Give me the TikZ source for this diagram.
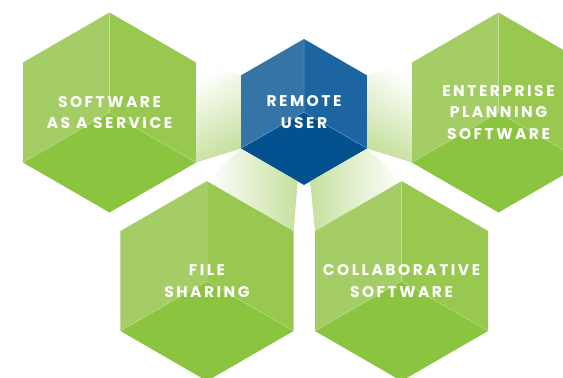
\documentclass[tikz,border=0pt]{standalone}
\usepackage{fontspec}
\setmainfont{Poppins}[LetterSpace=16]
\usetikzlibrary{calc}

\definecolor{gL}{HTML}{A4CE65}
\definecolor{gR}{HTML}{99C850}
\definecolor{gB}{HTML}{8BC43F}
\definecolor{bL}{HTML}{3574A7}
\definecolor{bR}{HTML}{1D65A0}
\definecolor{bB}{HTML}{03528F}
\definecolor{bandgreen}{HTML}{C6E09E}

\tikzset{
	faceline/.style={white, opacity=0.3, line width=0.5pt},
	hexlabel/.style={white, align=center, font=\fontsize{15.5}{21.5}\selectfont\bfseries},
	band/.style={draw=none}
}

% name, x, y, radius, colour prefix, text
\newcommand{\hexcube}[6]{%
	\begin{scope}[shift={(#2,#3)}]
		\coordinate (#1-c) at (0,0);
		\coordinate (#1-t) at (0,-#4);
		\coordinate (#1-ur) at (0.866*#4,-0.5*#4);
		\coordinate (#1-lr) at (0.866*#4,0.5*#4);
		\coordinate (#1-b) at (0,#4);
		\coordinate (#1-ll) at (-0.866*#4,0.5*#4);
		\coordinate (#1-ul) at (-0.866*#4,-0.5*#4);
		\fill[#5L] (#1-c) -- (#1-ll) -- (#1-ul) -- (#1-t) -- cycle;
		\fill[#5R] (#1-c) -- (#1-t) -- (#1-ur) -- (#1-lr) -- cycle;
		\fill[#5B] (#1-c) -- (#1-lr) -- (#1-b) -- (#1-ll) -- cycle;
		\draw[faceline] (#1-c) -- (#1-t) (#1-c) -- (#1-ll) (#1-c) -- (#1-lr);
		\node[hexlabel] (#1) at (#1-c) {#6};
	\end{scope}}

\begin{document}
\begin{tikzpicture}[x=1pt,y=-1pt]
	\useasboundingbox (0,0) rectangle (563,378);
	\clip (0,0) rectangle (563,378);

	\hexcube{user}{304}{112}{73}{b}{REMOTE\\USER}
	\hexcube{saas}{109.5}{112.5}{100}{g}{SOFTWARE\\AS A SERVICE}
	\hexcube{erp}{498.5}{112.5}{100}{g}{ENTERPRISE\\PLANNING\\SOFTWARE}
	\hexcube{files}{207}{281}{100}{g}{FILE\\SHARING}
	\hexcube{collab}{401.5}{281}{100}{g}{COLLABORATIVE\\SOFTWARE}

	% bands to the remote user
	\shade[band, top color=white, bottom color=bandgreen, shading angle=30]
		(saas-ur) -- (user-ul) -- (user-ll) -- (saas-lr) -- cycle;
	\shade[band, top color=white, bottom color=bandgreen, shading angle=-30]
		(erp-ul) -- (user-ur) -- (user-lr) -- (erp-ll) -- cycle;
	\shade[band, left color=white, right color=bandgreen]
		(files-t) -- (user-ll) -- ($(user-ll)!0.9!(user-b)$) -- (files-ur) -- cycle;
	\shade[band, left color=bandgreen, right color=white]
		($(user-lr)!0.9!(user-b)$) -- (user-lr) -- (collab-t) -- (collab-ul) -- cycle;
	%\draw (user) -- (saas);
\end{tikzpicture}
\end{document}
